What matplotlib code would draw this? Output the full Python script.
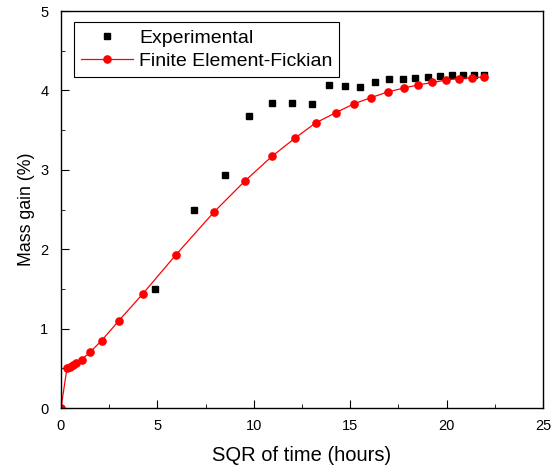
import matplotlib
matplotlib.use("Agg")
import matplotlib.pyplot as plt
from matplotlib.ticker import MultipleLocator

plt.rcParams['font.family'] = ['Liberation Sans', 'DejaVu Sans']

# Experimental mass gain vs square root of time
exp_x = [4.88, 6.90, 8.50, 9.75, 10.94, 11.98, 13.00, 13.88, 14.73, 15.52,
         16.30, 17.03, 17.72, 18.38, 19.02, 19.64, 20.26, 20.84, 21.41, 21.96]
exp_y = [1.50, 2.49, 2.93, 3.68, 3.84, 3.84, 3.83, 4.07, 4.06, 4.04,
         4.11, 4.14, 4.15, 4.16, 4.17, 4.18, 4.19, 4.20, 4.20, 4.20]

# Finite element (Fickian) prediction
fe_x = [0.0, 0.31, 0.47, 0.62, 0.79, 1.07, 1.49, 2.11, 3.00, 4.25, 5.96,
        7.94, 9.54, 10.94, 12.14, 13.20, 14.25, 15.18, 16.08, 16.94, 17.77,
        18.53, 19.26, 19.97, 20.64, 21.33, 21.96]
fe_y = [0.0, 0.50, 0.52, 0.54, 0.57, 0.61, 0.70, 0.85, 1.10, 1.44, 1.93,
        2.47, 2.86, 3.17, 3.40, 3.59, 3.72, 3.83, 3.91, 3.98, 4.03,
        4.07, 4.10, 4.13, 4.15, 4.16, 4.17]

fig = plt.figure(figsize=(5.57, 4.69), dpi=100)
ax = fig.add_axes([0.1095, 0.130, 0.8655, 0.8465])

ax.plot(exp_x, exp_y, linestyle='none', marker='s', color='black',
        markersize=4.6, label='Experimental')
ax.plot(fe_x, fe_y, color='red', linewidth=0.9, marker='o', markersize=5.2,
        label='Finite Element-Fickian')

ax.set_xlim(0, 25)
ax.set_ylim(0, 5)
ax.xaxis.set_major_locator(MultipleLocator(5))
ax.xaxis.set_minor_locator(MultipleLocator(2.5))
ax.yaxis.set_major_locator(MultipleLocator(1))
ax.yaxis.set_minor_locator(MultipleLocator(0.5))
ax.tick_params(which='both', direction='in', labelsize=10.5)
ax.tick_params(which='major', length=6)
ax.tick_params(which='minor', length=3)
ax.tick_params(axis='x', which='major', pad=8)
ax.tick_params(axis='y', which='major', pad=9)
for s in ax.spines.values():
    s.set_linewidth(1.0)

ax.set_xlabel('SQR of time (hours)', fontsize=14.5, labelpad=9)
ax.set_ylabel('Mass gain (%)', fontsize=12.8, labelpad=4)

leg = ax.legend(loc='upper left', bbox_to_anchor=(0.027, 0.972), fontsize=14,
                fancybox=False, edgecolor='black', framealpha=1,
                handlelength=2.7, handletextpad=0.3, borderpad=0.35,
                borderaxespad=0.0, labelspacing=0.3)
leg.get_frame().set_linewidth(0.8)

fig.savefig('out.png', dpi=100)
